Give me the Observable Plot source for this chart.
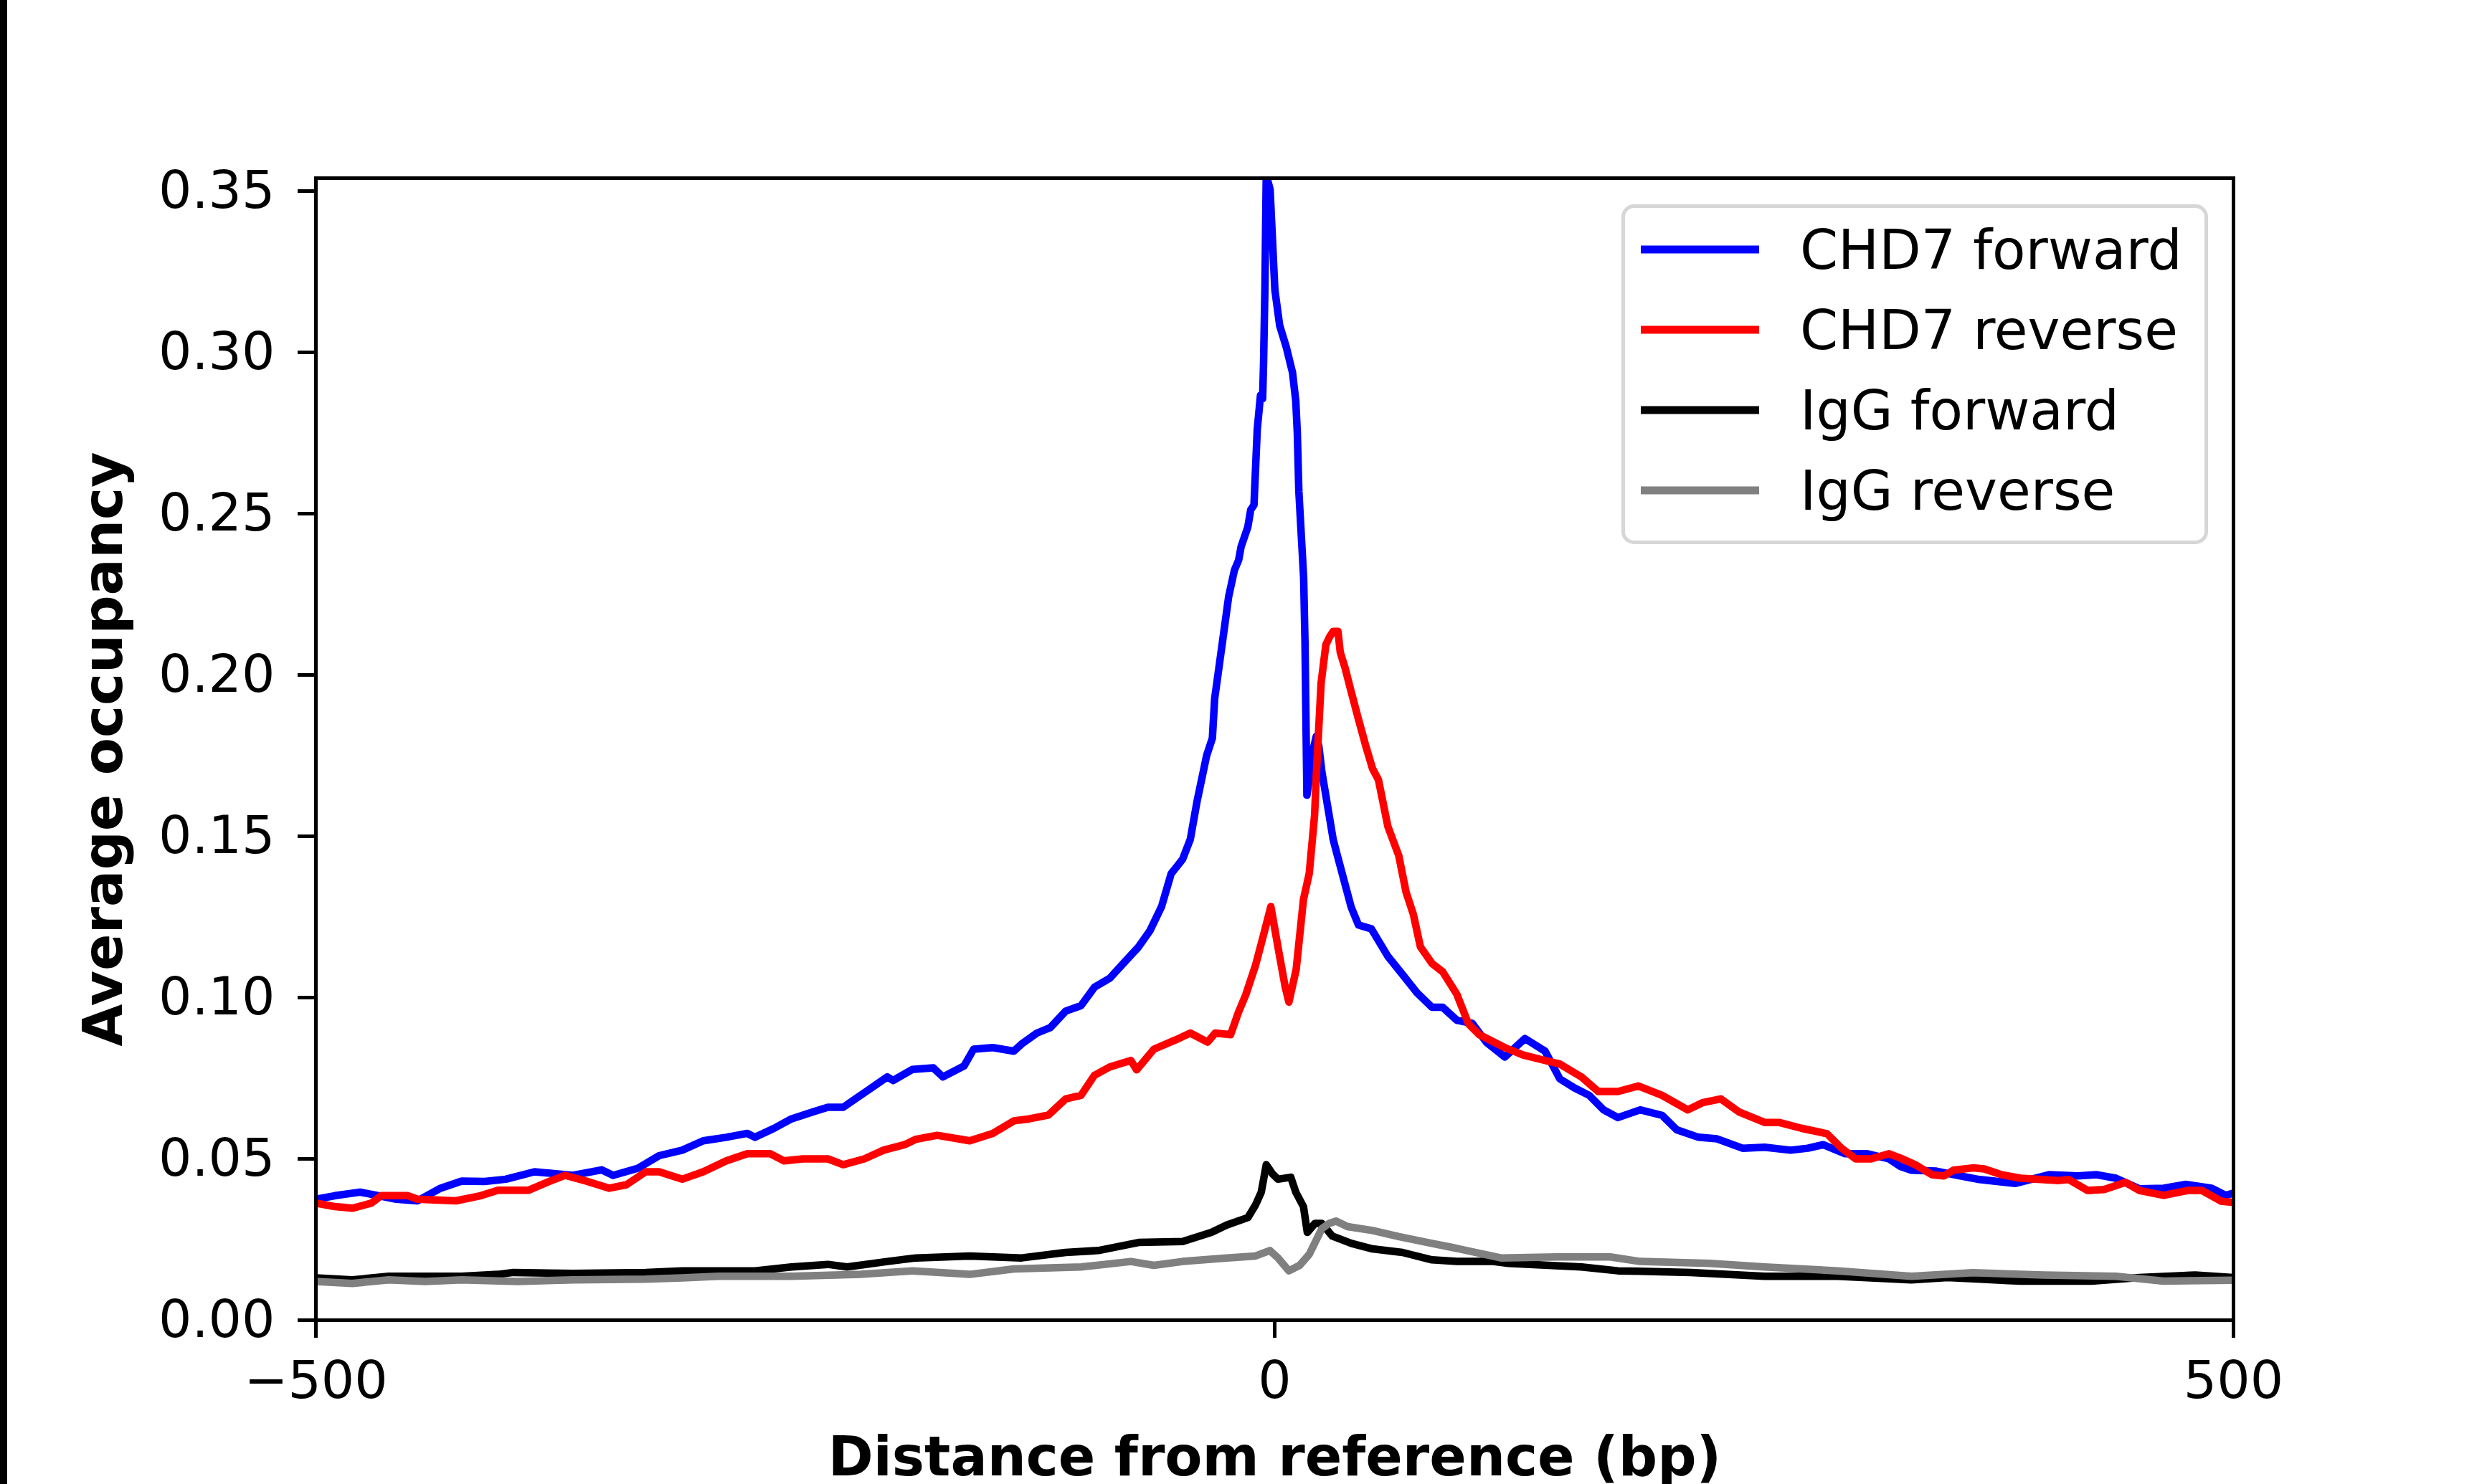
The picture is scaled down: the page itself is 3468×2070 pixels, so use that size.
<!DOCTYPE html>
<html>
<head>
<meta charset="utf-8">
<script src="https://cdn.jsdelivr.net/npm/d3@7"></script>
<script src="https://cdn.jsdelivr.net/npm/@observablehq/plot@0.6"></script>
<style>
  html, body { margin: 0; padding: 0; background: #fff; overflow: hidden; }
  #wrap { position: relative; width: 3468px; height: 2070px; }
  #strip { position: absolute; left: 0; top: 0; width: 10px; height: 2070px; background: #000; }
</style>
</head>
<body>
<div id="wrap"><div id="strip"></div></div>
<script>
// ---- data ----
const seriesNames = ["CHD7 forward", "CHD7 reverse", "IgG forward", "IgG reverse"];
const seriesColors = ["#0000ff", "#ff0000", "#000000", "#808080"];
const xTicks = [-500, 0, 500];
const yTicks = [0, 0.05, 0.10, 0.15, 0.20, 0.25, 0.30, 0.35];

const chd7Forward = [
  [-500,0.0375],[-490,0.0386],[-477,0.0397],[-458,0.0375],[-447,0.037],[-435,0.0409],[-424,0.0431],
  [-412,0.043],[-401,0.0437],[-386,0.046],[-366,0.0449],[-351,0.0466],[-345,0.0449],[-332,0.0471],
  [-321,0.051],[-309,0.0527],[-298,0.0556],[-286,0.0567],[-275,0.0579],[-271,0.0567],[-261,0.0595],
  [-252,0.0624],[-240,0.0647],[-233,0.066],[-225,0.066],[-214,0.0705],[-202,0.0754],[-199,0.0743],
  [-189,0.0777],[-178,0.0782],[-173,0.0754],[-162,0.0788],[-157,0.084],[-147,0.0845],[-136,0.0834],
  [-132,0.0856],[-124,0.089],[-117,0.0907],[-109,0.0958],[-101,0.0975],[-94,0.1032],[-86,0.106],
  [-78,0.1112],[-71,0.1157],[-65,0.1208],[-59,0.1282],[-54,0.1384],[-48,0.1429],[-44,0.1491],
  [-40.5,0.1608],[-35.5,0.175],[-32.5,0.1804],[-31.3,0.1927],[-27.5,0.2091],[-24,0.2243],[-21,0.2325],
  [-18.8,0.2356],[-17.5,0.2398],[-14,0.2459],[-12.5,0.2512],[-10.8,0.2527],[-9.1,0.2761],[-7.4,0.2867],
  [-6.3,0.2856],[-5.8,0.2967],[-5.1,0.32],[-4.4,0.355],[-2.4,0.3505],[0.1,0.3193],[2.6,0.3083],
  [6,0.3017],[9.3,0.2937],[11,0.2849],[11.8,0.2749],[12.6,0.2569],[15.1,0.2301],[15.8,0.21],
  [16.8,0.1627],[18.5,0.170],[20.5,0.178],[21.7,0.181],[23,0.178],[24.6,0.170],[28.4,0.1565],
  [30.5,0.149],[32.2,0.1451],[39.9,0.128],[43.7,0.1225],[50.4,0.1213],[59,0.1128],[66.6,0.1072],
  [74.2,0.1015],[82,0.097],[87.6,0.097],[95,0.093],[103,0.092],[110.5,0.0861],[120,0.0816],
  [130.5,0.0873],[141,0.0834],[148.7,0.0748],[156.3,0.072],[164,0.0697],[171.5,0.0652],[179,0.0628],
  [190.6,0.0652],[202,0.0635],[209.7,0.059],[221,0.0567],[230.7,0.0562],[244,0.0533],[255.5,0.0536],
  [269,0.0527],[278,0.0533],[286,0.0544],[297.5,0.0516],[309,0.0516],[320.4,0.05],[326.5,0.0476],
  [332,0.0465],[345,0.0462],[357.7,0.0447],[367.6,0.0436],[386.3,0.0424],[403.8,0.0451],[418.7,0.0447],
  [428.7,0.0451],[438.7,0.044],[451,0.0407],[463.6,0.0409],[474.8,0.0421],[488.6,0.0409],[496,0.0387],
  [500,0.0394]
];

const chd7Reverse = [
  [-500,0.0363],[-490,0.0352],[-481,0.0347],[-471,0.0363],[-466,0.0386],[-452,0.0386],[-447,0.0375],
  [-427,0.037],[-414,0.0386],[-405,0.0403],[-389,0.0403],[-378,0.0431],[-370,0.0449],[-359,0.0431],
  [-347,0.0409],[-338,0.042],[-328,0.046],[-321,0.046],[-309,0.0437],[-298,0.046],[-286,0.0494],
  [-275,0.0516],[-263,0.0516],[-256,0.0494],[-246,0.05],[-233,0.05],[-225,0.0482],[-214,0.05],
  [-204,0.0527],[-193,0.0544],[-187,0.0561],[-176,0.0573],[-159,0.0556],[-147,0.0579],[-136,0.0618],
  [-128,0.0624],[-118,0.0636],[-109,0.0686],[-101,0.0697],[-94,0.0759],[-86,0.0785],[-75,0.0805],
  [-72,0.0776],[-63,0.084],[-52,0.0868],[-44,0.089],[-35,0.0862],[-31,0.089],[-23,0.0885],[-19,0.0953],
  [-15,0.101],[-10,0.11],[-6,0.119],[-2,0.1282],[1.7,0.1157],[5.5,0.1032],[7.4,0.0986],[11.2,0.1087],
  [15,0.1304],[18,0.1384],[20.8,0.1565],[21.7,0.169],[24.2,0.1975],[26.7,0.2094],[28.6,0.2118],
  [30.5,0.2135],[33,0.2135],[34.2,0.207],[36.7,0.2022],[39.8,0.195],[43.5,0.1867],[47.3,0.1784],
  [51,0.171],[54.1,0.1675],[59,0.1531],[64.7,0.144],[68.5,0.1327],[72.3,0.1258],[76,0.1157],
  [82,0.1106],[87.6,0.108],[95,0.101],[101,0.0919],[106.7,0.0885],[120,0.0845],[129.6,0.0822],
  [141,0.0805],[148.7,0.0794],[160,0.0754],[168.7,0.0709],[179,0.0709],[189.7,0.0726],[202,0.0697],
  [215.4,0.0652],[223,0.0674],[232.6,0.0686],[242,0.0646],[255.5,0.0613],[263,0.0613],[274.6,0.0595],
  [288,0.0578],[295.6,0.0533],[303,0.05],[311,0.05],[320.4,0.0516],[326.5,0.0502],[334,0.0482],
  [342.7,0.0451],[349,0.0447],[354,0.0465],[364,0.0472],[370,0.0469],[379,0.0451],[389,0.044],
  [409,0.0433],[414,0.0436],[424,0.0402],[432.5,0.0405],[443.7,0.0427],[451,0.0402],[463.6,0.0387],
  [476,0.0402],[483.6,0.0402],[493.5,0.0369],[500,0.0365]
];

const iggForward = [
  [-500,0.0131],[-481,0.0125],[-462,0.0136],[-424,0.0136],[-405,0.0142],[-397,0.0148],[-366,0.0145],
  [-328,0.0148],[-309,0.0153],[-271,0.0153],[-252,0.0165],[-233,0.0173],[-223,0.0165],[-202,0.0182],
  [-187,0.0193],[-159,0.0199],[-132,0.0193],[-109,0.021],[-92,0.0216],[-71,0.0241],[-48,0.0244],
  [-33,0.0272],[-25,0.0295],[-14,0.0318],[-10,0.0357],[-7,0.0397],[-4.4,0.0482],[-1.2,0.0454],
  [1.7,0.0437],[8.4,0.0443],[11,0.0397],[15,0.0352],[17,0.0272],[21,0.03],[24.6,0.03],[30,0.0261],
  [40,0.0238],[51,0.0221],[66.6,0.021],[82,0.0187],[95,0.0182],[114,0.0182],[122,0.0176],[160,0.0165],
  [179,0.0153],[217,0.0148],[255.5,0.0136],[293.7,0.0136],[332,0.0125],[351,0.0132],[389,0.0121],
  [426,0.0121],[451,0.0132],[480,0.014],[500,0.0132]
];

const iggReverse = [
  [-500,0.012],[-481,0.0114],[-462,0.0125],[-443,0.012],[-424,0.0125],[-395,0.012],[-366,0.0125],
  [-328,0.0127],[-309,0.0131],[-290,0.0136],[-252,0.0136],[-216,0.0142],[-189,0.0153],[-159,0.0142],
  [-136,0.0159],[-101,0.0165],[-75,0.0182],[-63,0.017],[-48,0.0182],[-25,0.0193],[-10,0.0199],
  [-2.5,0.0216],[1.7,0.0193],[7.4,0.0153],[13,0.017],[18,0.0204],[24.6,0.0284],[28.4,0.03],[32,0.0307],
  [38,0.029],[51,0.0278],[64.7,0.0259],[82,0.0238],[93,0.0225],[118,0.0193],[147,0.0196],[175,0.0196],
  [190.6,0.0182],[227,0.0176],[255.5,0.0165],[293.7,0.0153],[332,0.0136],[364,0.0147],[401,0.014],
  [438.7,0.0136],[463.6,0.0121],[500,0.0124]
];

const seriesData = [chd7Forward, chd7Reverse, iggForward, iggReverse];
const rows = seriesData.map((arr, i) => arr.map(([bp, v]) => ({series: seriesNames[i], bp, v})));

const FONT = "DejaVu Sans";
const FS = 73;      // tick labels
const FS_LABEL = 76; // axis titles and legend

const chart = Plot.plot({
  width: 3468,
  height: 2070,
  marginLeft: 440,
  marginRight: 354,
  marginTop: 248,
  marginBottom: 229,
  style: {fontFamily: FONT, fontSize: FS + "px", background: "white", color: "black", overflow: "visible"},
  x: {domain: [-500, 500]},
  y: {domain: [0, 0.354]},
  marks: [
    ...rows.map((r, i) => Plot.line(r, {x: "bp", y: "v", stroke: seriesColors[i], strokeWidth: 10.5, clip: true, strokeLinejoin: "round", strokeLinecap: "butt"})),
    Plot.frame({stroke: "black", strokeWidth: 5}),
    Plot.axisX({ticks: xTicks, tickSize: 25, tickPadding: 32, strokeWidth: 5, fontSize: FS, label: null}),
    Plot.axisY({ticks: yTicks, tickSize: 25, tickPadding: 32, strokeWidth: 5, fontSize: FS, tickFormat: ".2f", label: null}),
    Plot.text(["Distance from reference (bp)"], {text: d => d, frameAnchor: "bottom", dy: 216, lineAnchor: "bottom", textAnchor: "middle", fontWeight: "bold", fontSize: FS_LABEL}),
    Plot.text(["Average occupancy"], {text: d => d, frameAnchor: "left", dx: -271, rotate: -90, lineAnchor: "bottom", textAnchor: "middle", fontWeight: "bold", fontSize: FS_LABEL})
  ]
});

document.getElementById("wrap").prepend(chart);

// ---- legend (matplotlib-style box, upper right) ----
const svg = d3.select(chart);
const lg = svg.append("g").attr("font-family", FONT).attr("font-size", FS_LABEL).attr("text-anchor", "start");
lg.append("rect")
  .attr("x", 2263.5).attr("y", 287.5).attr("width", 813).attr("height", 469)
  .attr("rx", 15).attr("ry", 15)
  .attr("fill", "white").attr("fill-opacity", 0.8)
  .attr("stroke", "#d6d6d6").attr("stroke-width", 5);
seriesNames.forEach((name, i) => {
  const cy = 348 + 112 * i;
  lg.append("line").attr("x1", 2288).attr("x2", 2453).attr("y1", cy).attr("y2", cy)
    .attr("stroke", seriesColors[i]).attr("stroke-width", 11);
  lg.append("text").attr("x", 2510).attr("y", cy + 27).attr("fill", "black").attr("text-anchor", "start").text(name);
});
</script>
</body>
</html>
